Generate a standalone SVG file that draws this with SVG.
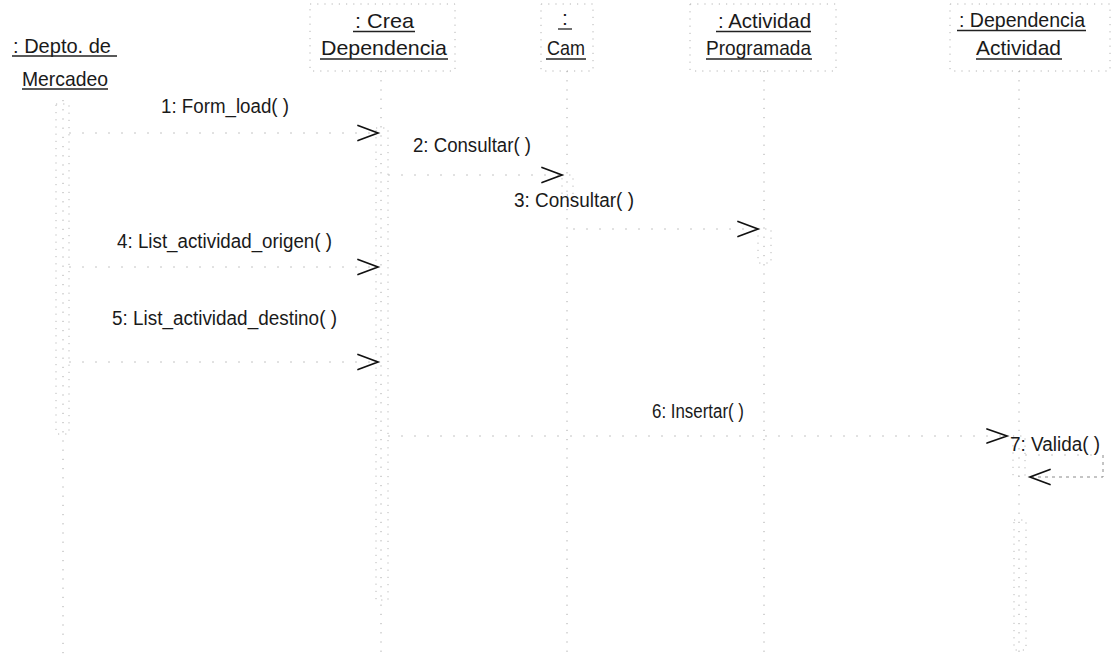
<svg xmlns="http://www.w3.org/2000/svg" width="1116" height="659" viewBox="0 0 1116 659">
  <style>
    .bg { fill: #ffffff; }
    .lbl { font-family: "Liberation Sans", Arial, sans-serif; font-size: 20px; fill: #1a1a1a; }
    .hdr { font-family: "Liberation Sans", Arial, sans-serif; font-size: 21px; fill: #1a1a1a; }
    .ul { stroke: #222; stroke-width: 1.3; }
    .box { fill: none; stroke: #b4b4b4; stroke-width: 1; stroke-dasharray: 1.2 6; }
    .life { fill: none; stroke: #a8a8a8; stroke-width: 1; stroke-dasharray: 1.2 8; }
    .act { fill: none; stroke: #b8b8b8; stroke-width: 1; stroke-dasharray: 1.2 6; }
    .msg { fill: none; stroke: #c4c4c4; stroke-width: 1; stroke-dasharray: 2 11; }
    .self { fill: none; stroke: #8a8a8a; stroke-width: 1; stroke-dasharray: 3 4; }
    .head { fill: none; stroke: #111; stroke-width: 1.7; stroke-linecap: round; stroke-linejoin: miter; }
  </style>

  <rect class="bg" x="0" y="0" width="1116" height="659"/>

  <!-- objects of the sequence -->
  <g id="depto-mercadeo">
    <line class="life" x1="63" y1="100" x2="63" y2="659"/>
    <rect class="act" x="56" y="104" width="13" height="330"/>
    <text class="hdr" x="13" y="53" textLength="98" lengthAdjust="spacingAndGlyphs">: Depto. de</text>
    <line class="ul" x1="12" y1="56" x2="117" y2="56"/>
    <text class="hdr" x="22" y="86" textLength="86" lengthAdjust="spacingAndGlyphs">Mercadeo</text>
    <line class="ul" x1="22" y1="89" x2="108" y2="89"/>
  </g>

  <g id="crea-dependencia">
    <rect class="box" x="310" y="4" width="145" height="67"/>
    <line class="life" x1="381" y1="71" x2="381" y2="659"/>
    <rect class="act" x="376" y="128" width="12" height="472"/>
    <text class="hdr" x="355" y="28" textLength="59" lengthAdjust="spacingAndGlyphs">: Crea</text>
    <line class="ul" x1="353" y1="31.5" x2="415" y2="31.5"/>
    <text class="hdr" x="321" y="55" textLength="126" lengthAdjust="spacingAndGlyphs">Dependencia</text>
    <line class="ul" x1="320" y1="59" x2="448" y2="59"/>
  </g>

  <g id="cam">
    <rect class="box" x="541" y="4" width="52" height="67"/>
    <line class="life" x1="567" y1="71" x2="567" y2="659"/>
    <rect class="act" x="562" y="175" width="11" height="20"/>
    <text class="hdr" x="562" y="25">:</text>
    <line class="ul" x1="558" y1="29" x2="572" y2="29"/>
    <text class="hdr" x="547" y="55" textLength="38" lengthAdjust="spacingAndGlyphs">Cam</text>
    <line class="ul" x1="546" y1="59" x2="586" y2="59"/>
  </g>

  <g id="actividad-programada">
    <rect class="box" x="690" y="4" width="146" height="67"/>
    <line class="life" x1="764" y1="71" x2="764" y2="659"/>
    <rect class="act" x="758" y="229" width="13" height="34"/>
    <text class="hdr" x="718" y="28" textLength="93" lengthAdjust="spacingAndGlyphs">: Actividad</text>
    <line class="ul" x1="716" y1="31.5" x2="811" y2="31.5"/>
    <text class="hdr" x="706" y="55" textLength="105" lengthAdjust="spacingAndGlyphs">Programada</text>
    <line class="ul" x1="706" y1="59" x2="812" y2="59"/>
  </g>

  <g id="dependencia-actividad">
    <rect class="box" x="950" y="4" width="160" height="67"/>
    <line class="life" x1="1019" y1="71" x2="1019" y2="659"/>
    <rect class="act" x="1013" y="436" width="12" height="40"/>
    <rect class="act" x="1014" y="520" width="12" height="130"/>
    <text class="hdr" x="959" y="27" textLength="126" lengthAdjust="spacingAndGlyphs">: Dependencia</text>
    <line class="ul" x1="957" y1="30.5" x2="1086" y2="30.5"/>
    <text class="hdr" x="976" y="55" textLength="85" lengthAdjust="spacingAndGlyphs">Actividad</text>
    <line class="ul" x1="976" y1="59" x2="1062" y2="59"/>
  </g>

  <!-- messages -->
  <g id="messages">
    <!-- 1 -->
    <line class="msg" x1="69" y1="133" x2="376" y2="133"/>
    <polyline class="head" points="358,125.5 378,133 358,140.5"/>
    <text class="lbl" x="161" y="113" textLength="128" lengthAdjust="spacingAndGlyphs">1: Form_load( )</text>
    <!-- 2 -->
    <line class="msg" x1="388" y1="175" x2="561" y2="175"/>
    <polyline class="head" points="542,167.5 562,175 542,182.5"/>
    <text class="lbl" x="413" y="152" textLength="118" lengthAdjust="spacingAndGlyphs">2: Consultar( )</text>
    <!-- 3 -->
    <line class="msg" x1="573" y1="229" x2="757" y2="229"/>
    <polyline class="head" points="738,221.5 758,229 738,236.5"/>
    <text class="lbl" x="514" y="207" textLength="120" lengthAdjust="spacingAndGlyphs">3: Consultar( )</text>
    <!-- 4 -->
    <line class="msg" x1="69" y1="267" x2="376" y2="267"/>
    <polyline class="head" points="358,259.5 378,267 358,274.5"/>
    <text class="lbl" x="117" y="248" textLength="215" lengthAdjust="spacingAndGlyphs">4: List_actividad_origen( )</text>
    <!-- 5 -->
    <line class="msg" x1="69" y1="362" x2="376" y2="362"/>
    <polyline class="head" points="358,354.5 378,362 358,369.5"/>
    <text class="lbl" x="112" y="325" textLength="225" lengthAdjust="spacingAndGlyphs">5: List_actividad_destino( )</text>
    <!-- 6 -->
    <line class="msg" x1="388" y1="436" x2="1006" y2="436"/>
    <polyline class="head" points="987,429 1007,436 987,443"/>
    <text class="lbl" x="652" y="418" textLength="92" lengthAdjust="spacingAndGlyphs">6: Insertar( )</text>
    <!-- 7: self call on the same lifeline -->
    <polyline class="msg" points="1025,455 1103,455"/>
    <polyline class="self" points="1103,455 1103,477 1031,477"/>
    <polyline class="head" points="1050,469.5 1030,477 1050,484.5"/>
    <text class="lbl" x="1010" y="451" textLength="90" lengthAdjust="spacingAndGlyphs">7: Valida( )</text>
  </g>
</svg>
